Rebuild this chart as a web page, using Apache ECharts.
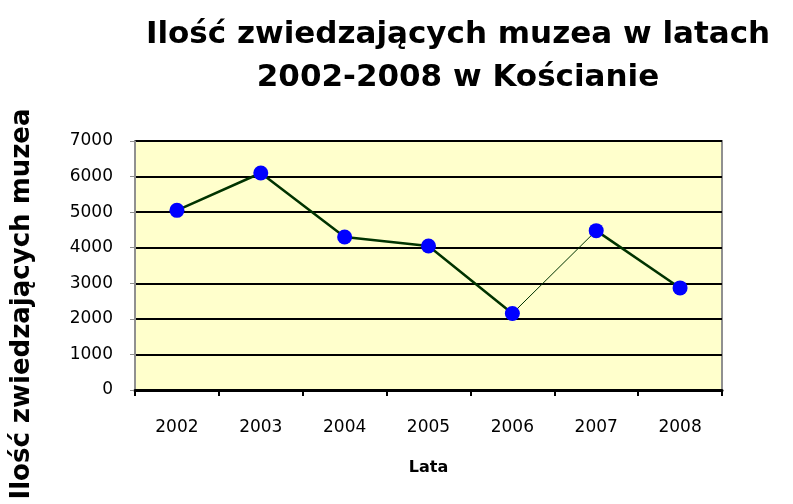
<!DOCTYPE html>
<html>
<head>
<meta charset="utf-8">
<script src="https://cdn.jsdelivr.net/npm/echarts@6/dist/echarts.min.js"></script>
<style>
  html, body { margin: 0; padding: 0; background: #fff; }
  #chart { width: 793px; height: 504px; }
</style>
</head>
<body>
<div id="chart"></div>
<script>
// dane
var years = ['2002', '2003', '2004', '2005', '2006', '2007', '2008'];
var visitors = [5050, 6100, 4300, 4050, 2150, 4480, 2870];
var yTicks = [0, 1000, 2000, 3000, 4000, 5000, 6000, 7000];

// odcinek 2006-2007 jest cienszy w oryginale
var thinFrom = 4;
function part(a, b) {
    return visitors.map(function (v, i) { return (i >= a && i <= b) ? v : null; });
}

var lineColor = '#003300';
var font = 'DejaVu Sans';

var chart = echarts.init(document.getElementById('chart'));
chart.setOption({
    animation: false,
    title: {
        text: 'Ilość zwiedzających muzea w latach\n2002-2008 w Kościanie',
        left: 453,
        top: 8,
        textAlign: 'center',
        textStyle: { fontFamily: font, fontWeight: 'bold', fontSize: 31, lineHeight: 43, color: '#000' }
    },
    graphic: [{
        type: 'text',
        x: 22,
        y: 304,
        rotation: Math.PI / 2,
        style: {
            text: 'Ilość zwiedzających muzea',
            font: 'bold 26px "DejaVu Sans"',
            fill: '#000',
            align: 'center',
            verticalAlign: 'middle'
        }
    }],
    grid: {
        left: 135, top: 141, right: 71, bottom: 114,
        show: true, backgroundColor: '#FFFFCC', borderColor: '#909090', borderWidth: 2
    },
    xAxis: {
        type: 'category',
        data: years,
        boundaryGap: true,
        name: 'Lata',
        nameLocation: 'middle',
        nameGap: 70,
        nameTextStyle: { fontFamily: font, fontWeight: 'bold', fontSize: 16, color: '#000' },
        axisLine: { lineStyle: { color: '#000', width: 3 } },
        axisTick: { show: true, length: 6, alignWithLabel: false, lineStyle: { color: '#000', width: 2 } },
        axisLabel: { fontFamily: font, fontSize: 17, color: '#000', margin: 29 },
        splitLine: { show: false }
    },
    yAxis: {
        type: 'value',
        min: yTicks[0],
        max: yTicks[yTicks.length - 1],
        interval: 1000,
        axisLine: { show: true, lineStyle: { color: '#909090', width: 1 } },
        axisTick: { show: true, length: 5, lineStyle: { color: '#909090' } },
        axisLabel: {
            fontFamily: font, fontSize: 17, color: '#000', margin: 22,
            formatter: function (v) { return String(v); }
        },
        splitLine: { show: true, lineStyle: { color: '#000', width: 2 } }
    },
    series: [
        {
            type: 'line', data: part(0, thinFrom), showSymbol: false, connectNulls: false,
            lineStyle: { color: lineColor, width: 2.5 }, z: 3
        },
        {
            type: 'line', data: part(thinFrom, thinFrom + 1), showSymbol: false,
            lineStyle: { color: lineColor, width: 1 }, z: 3
        },
        {
            type: 'line', data: part(thinFrom + 1, visitors.length - 1), showSymbol: false,
            lineStyle: { color: lineColor, width: 2.5 }, z: 3
        },
        {
            type: 'line', data: visitors, symbol: 'circle', symbolSize: 15,
            lineStyle: { opacity: 0 },
            itemStyle: { color: '#0000FF', borderWidth: 0 }, z: 5
        }
    ]
});
</script>
</body>
</html>
